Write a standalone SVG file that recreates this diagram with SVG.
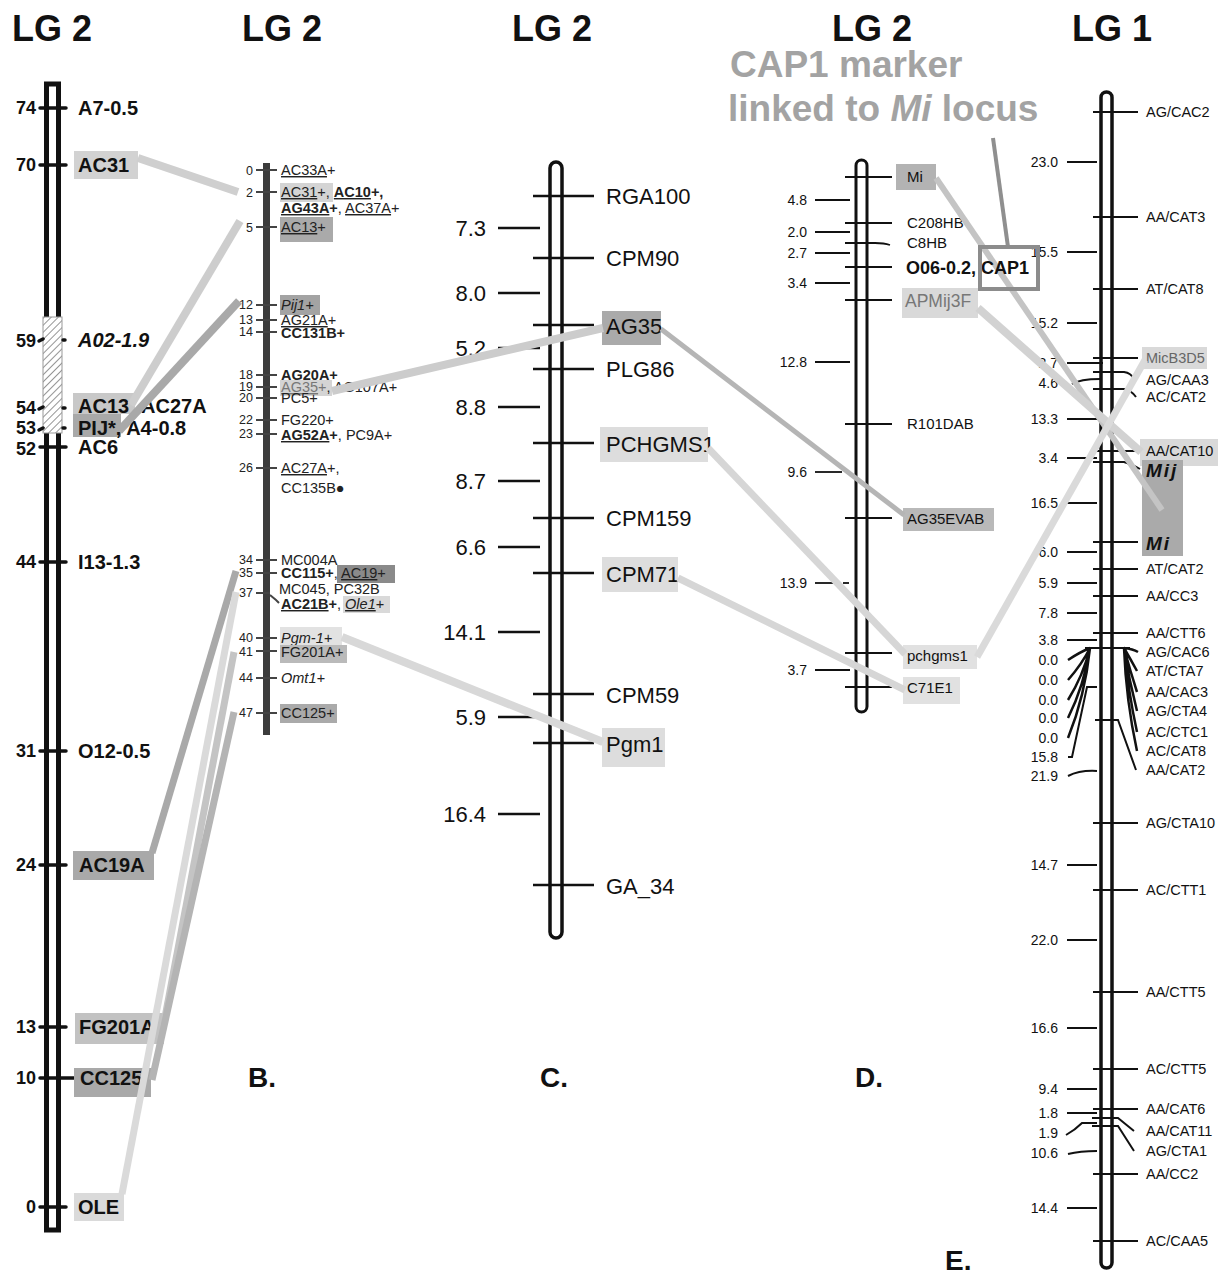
<svg xmlns="http://www.w3.org/2000/svg" width="1221" height="1278" viewBox="0 0 1221 1278">
<defs>
<pattern id="hatch" width="5" height="5" patternUnits="userSpaceOnUse" patternTransform="rotate(45)"><line x1="0" y1="0" x2="0" y2="5" stroke="#5a5a5a" stroke-width="1.3"/></pattern>
</defs>
<style>
text{font-family:"Liberation Sans",Arial,sans-serif;}
.hd{font-size:36px;font-weight:bold;fill:#111;}
.pl{font-size:28px;font-weight:bold;fill:#111;}
.an{font-size:37px;font-weight:bold;fill:#a3a3a3;}
.al{font-size:20px;font-weight:bold;fill:#111;}
.an2{font-size:18px;font-weight:bold;fill:#111;text-anchor:end;}
.bl{font-size:14.5px;fill:#222;}
.bn{font-size:12.5px;fill:#222;text-anchor:end;}
.cl{font-size:22px;fill:#111;}
.cn{font-size:22px;fill:#111;text-anchor:end;}
.dl{font-size:15px;fill:#111;}
.dn{font-size:14px;fill:#111;text-anchor:end;}
.el{font-size:14.5px;fill:#111;}
.en{font-size:14px;fill:#111;text-anchor:end;}
.u{text-decoration:underline;}
.b{font-weight:bold;}
.i{font-style:italic;}
.tkA{stroke:#111;stroke-width:3.5;stroke-linecap:round;}
.tkB{stroke:#444;stroke-width:2;}
.tkC{stroke:#111;stroke-width:2.6;}
.tkD{stroke:#111;stroke-width:1.8;}
.tkE{stroke:#111;stroke-width:2;fill:none;}
.con{fill:none;stroke-linecap:butt;}
</style>
<rect width="1221" height="1278" fill="#fff"/>

<g id="titles">
<text class="hd" x="12" y="41">LG 2</text>
<text class="hd" x="242" y="41">LG 2</text>
<text class="hd" x="512" y="41">LG 2</text>
<text class="hd" x="832" y="41">LG 2</text>
<text class="hd" x="1072" y="41">LG 1</text>
<text class="pl" x="248" y="1087">B.</text>
<text class="pl" x="540" y="1087">C.</text>
<text class="pl" x="855" y="1087">D.</text>
<text class="pl" x="945" y="1270">E.</text>
</g>

<g id="annotation">
<text class="an" x="730" y="77">CAP1 marker</text>
<text class="an" x="728" y="121">linked to <tspan font-style="italic">Mi</tspan> locus</text>
</g>

<!-- Panel A -->
<g id="panelA">
<rect x="46.5" y="84" width="12" height="1146" fill="none" stroke="#111" stroke-width="5"/>
<rect x="43" y="317" width="19" height="116" fill="#fff"/>
<rect x="43" y="317" width="19" height="116" fill="url(#hatch)" stroke="#999" stroke-width="1"/>
<g>
<line class="tkA" x1="40" y1="108" x2="66" y2="108"/>
<line class="tkA" x1="40" y1="165" x2="66" y2="165"/>
<line class="tkA" x1="39" y1="341" x2="43" y2="339"/><line class="tkA" x1="63" y1="340" x2="65" y2="340"/>
<line class="tkA" x1="39" y1="409" x2="43" y2="407"/><line class="tkA" x1="63" y1="408" x2="65" y2="408"/>
<line class="tkA" x1="39" y1="430" x2="43" y2="428"/><line class="tkA" x1="63" y1="428" x2="65" y2="428"/>
<line class="tkA" x1="40" y1="447" x2="66" y2="447"/>
<line class="tkA" x1="40" y1="562" x2="66" y2="562"/>
<line class="tkA" x1="40" y1="751" x2="66" y2="751"/>
<line class="tkA" x1="40" y1="865" x2="66" y2="865"/>
<line class="tkA" x1="40" y1="1027" x2="66" y2="1027"/>
<line class="tkA" x1="40" y1="1078" x2="78" y2="1078"/>
<line class="tkA" x1="40" y1="1207" x2="66" y2="1207"/>
</g>
<text class="an2" x="36" y="114">74</text>
<text class="an2" x="36" y="171">70</text>
<text class="an2" x="36" y="347">59</text>
<text class="an2" x="36" y="414">54</text>
<text class="an2" x="36" y="434">53</text>
<text class="an2" x="36" y="455">52</text>
<text class="an2" x="36" y="568">44</text>
<text class="an2" x="36" y="757">31</text>
<text class="an2" x="36" y="871">24</text>
<text class="an2" x="36" y="1033">13</text>
<text class="an2" x="36" y="1084">10</text>
<text class="an2" x="36" y="1213">0</text>
</g>
<g id="A-A7"><text class="al" x="78" y="115">A7-0.5</text></g>
<g id="A-AC31"><rect x="74" y="151" width="64" height="28" fill="#d2d2d2"/><text class="al" x="78" y="172">AC31</text></g>
<g id="A-A02"><text class="al" x="78" y="347" style="font-style:italic">A02-1.9</text></g>
<g id="A-AC13"><rect x="73" y="393" width="62" height="21" fill="#c8c8c8"/><text class="al" x="78" y="413">AC13</text><text class="al" x="141" y="413">AC27A</text></g>
<g id="A-PIJ"><rect x="73" y="414" width="48" height="23" fill="#a9a9a9"/><text class="al" x="78" y="435">PIJ*, A4-0.8</text></g>
<g id="A-AC6"><text class="al" x="78" y="454">AC6</text></g>
<g id="A-I13"><text class="al" x="78" y="569">I13-1.3</text></g>
<g id="A-O12"><text class="al" x="78" y="758">O12-0.5</text></g>
<g id="A-AC19A"><rect x="73" y="851" width="81" height="29" fill="#a9a9a9"/><text class="al" x="79" y="872">AC19A</text></g>
<g id="A-FG201A"><rect x="75" y="1013" width="89" height="31" fill="#c2c2c2"/><text class="al" x="79" y="1034">FG201A</text></g>
<g id="A-CC125"><rect x="74" y="1068" width="77" height="29" fill="#a9a9a9"/><text class="al" x="80" y="1085">CC125</text></g>
<g id="A-OLE"><rect x="74" y="1193" width="50" height="28" fill="#dadada"/><text class="al" x="78" y="1214">OLE</text></g>

<!-- Panel B -->
<g id="panelB">
<rect x="263" y="163" width="7" height="572" fill="#3c3c3c"/>
<g>
<line class="tkB" x1="256" y1="170" x2="277" y2="170"/>
<line class="tkB" x1="256" y1="192" x2="277" y2="192"/>
<line class="tkB" x1="256" y1="227" x2="277" y2="227"/>
<line class="tkB" x1="256" y1="305" x2="277" y2="305"/>
<line class="tkB" x1="256" y1="320" x2="277" y2="320"/>
<line class="tkB" x1="256" y1="332" x2="277" y2="332"/>
<line class="tkB" x1="256" y1="375" x2="277" y2="375"/>
<line class="tkB" x1="256" y1="387" x2="277" y2="387"/>
<line class="tkB" x1="256" y1="398" x2="277" y2="398"/>
<line class="tkB" x1="256" y1="420" x2="277" y2="420"/>
<line class="tkB" x1="256" y1="434" x2="277" y2="434"/>
<line class="tkB" x1="256" y1="468" x2="277" y2="468"/>
<line class="tkB" x1="256" y1="560" x2="277" y2="560"/>
<line class="tkB" x1="256" y1="573" x2="277" y2="573"/>
<line class="tkB" x1="256" y1="593" x2="270" y2="593"/>
<polyline class="tkB" fill="none" points="270,595 276,600 279,603"/>
<line class="tkB" x1="256" y1="638" x2="277" y2="638"/>
<line class="tkB" x1="256" y1="651" x2="277" y2="651"/>
<line class="tkB" x1="256" y1="678" x2="277" y2="678"/>
<line class="tkB" x1="256" y1="713" x2="277" y2="713"/>
</g>
<text class="bn" x="253" y="175">0</text>
<text class="bn" x="253" y="197">2</text>
<text class="bn" x="253" y="232">5</text>
<text class="bn" x="253" y="309">12</text>
<text class="bn" x="253" y="324">13</text>
<text class="bn" x="253" y="336">14</text>
<text class="bn" x="253" y="379">18</text>
<text class="bn" x="253" y="391">19</text>
<text class="bn" x="253" y="402">20</text>
<text class="bn" x="253" y="424">22</text>
<text class="bn" x="253" y="438">23</text>
<text class="bn" x="253" y="472">26</text>
<text class="bn" x="253" y="564">34</text>
<text class="bn" x="253" y="577">35</text>
<text class="bn" x="253" y="597">37</text>
<text class="bn" x="253" y="642">40</text>
<text class="bn" x="253" y="656">41</text>
<text class="bn" x="253" y="682">44</text>
<text class="bn" x="253" y="717">47</text>
</g>
<g id="B-0"><text class="bl" x="281" y="175"><tspan class="u">AC33A</tspan>+</text></g>
<g id="B-2"><rect x="280" y="183" width="53" height="19" fill="#d4d4d4"/><text class="bl" x="281" y="197"><tspan class="u">AC31</tspan>+, <tspan class="b u">AC10</tspan><tspan class="b">+,</tspan></text><text class="bl" x="281" y="213"><tspan class="b u">AG43A</tspan><tspan class="b">+</tspan>, <tspan class="u">AC37A</tspan>+</text></g>
<g id="B-5"><rect x="280" y="217" width="53" height="25" fill="#aaaaaa"/><text class="bl" x="281" y="232"><tspan class="u">AC13</tspan>+</text></g>
<g id="B-12"><rect x="280" y="295" width="40" height="20" fill="#a3a3a3"/><text class="bl i" x="281" y="310">Pij1+</text></g>
<g id="B-13"><text class="bl" x="281" y="325"><tspan class="u">AG21A</tspan>+</text></g>
<g id="B-14"><text class="bl b" x="281" y="338">CC131B+</text></g>
<g id="B-18"><text class="bl" x="281" y="380"><tspan class="b u">AG20A</tspan><tspan class="b">+</tspan></text></g>
<g id="B-19"><rect x="280" y="380" width="52" height="16" fill="#d4d4d4"/><text class="bl" x="281" y="392"><tspan class="u" fill="#777">AG35</tspan><tspan fill="#777">+</tspan>, AG107A+</text></g>
<g id="B-20"><text class="bl" x="281" y="403">PC5+</text></g>
<g id="B-22"><text class="bl" x="281" y="425">FG220+</text></g>
<g id="B-23"><text class="bl" x="281" y="440"><tspan class="b u">AG52A</tspan><tspan class="b">+</tspan>, PC9A+</text></g>
<g id="B-26"><text class="bl" x="281" y="473"><tspan class="u">AC27A</tspan>+,</text><text class="bl" x="281" y="493">CC135B●</text></g>
<g id="B-34"><text class="bl" x="281" y="565">MC004A</text></g>
<g id="B-35"><rect x="337" y="565" width="58" height="18" fill="#8a8a8a"/><text class="bl" x="281" y="578"><tspan class="b">CC115+</tspan>, <tspan class="u">AC19</tspan>+</text></g>
<g id="B-37"><rect x="343" y="596" width="47" height="17" fill="#d9d9d9"/><text class="bl" x="279" y="594">MC045, PC32B</text><text class="bl" x="281" y="609"><tspan class="b u">AC21B</tspan><tspan class="b">+</tspan>, <tspan class="i u">Ole1</tspan>+</text></g>
<g id="B-40"><rect x="280" y="627" width="62" height="18" fill="#e2e2e2"/><text class="bl i" x="281" y="643">Pgm-1+</text></g>
<g id="B-41"><rect x="280" y="645" width="67" height="18" fill="#bababa"/><text class="bl" x="281" y="657">FG201A+</text></g>
<g id="B-44"><text class="bl i" x="281" y="683">Omt1+</text></g>
<g id="B-47"><rect x="280" y="704" width="57" height="19" fill="#aaaaaa"/><text class="bl" x="281" y="718">CC125+</text></g>

<!-- Panel C -->
<g id="panelC">
<rect x="550" y="162" width="12" height="776" rx="6" fill="none" stroke="#111" stroke-width="3.5"/>
<g>
<line class="tkC" x1="533" y1="196" x2="594" y2="196"/>
<line class="tkC" x1="533" y1="258" x2="594" y2="258"/>
<line class="tkC" x1="533" y1="325" x2="594" y2="325"/>
<line class="tkC" x1="533" y1="369" x2="594" y2="369"/>
<line class="tkC" x1="533" y1="443" x2="594" y2="443"/>
<line class="tkC" x1="533" y1="518" x2="594" y2="518"/>
<line class="tkC" x1="533" y1="573" x2="594" y2="573"/>
<line class="tkC" x1="533" y1="694" x2="594" y2="694"/>
<line class="tkC" x1="533" y1="743" x2="594" y2="743"/>
<line class="tkC" x1="533" y1="885" x2="594" y2="885"/>
<line class="tkC" x1="498" y1="228" x2="540" y2="228"/>
<line class="tkC" x1="498" y1="293" x2="540" y2="293"/>
<line class="tkC" x1="498" y1="348" x2="540" y2="348"/>
<line class="tkC" x1="498" y1="407" x2="540" y2="407"/>
<line class="tkC" x1="498" y1="481" x2="540" y2="481"/>
<line class="tkC" x1="498" y1="547" x2="540" y2="547"/>
<line class="tkC" x1="498" y1="632" x2="540" y2="632"/>
<line class="tkC" x1="498" y1="717" x2="540" y2="717"/>
<line class="tkC" x1="498" y1="814" x2="540" y2="814"/>
</g>
<text class="cn" x="486" y="236">7.3</text>
<text class="cn" x="486" y="301">8.0</text>
<text class="cn" x="486" y="356">5.2</text>
<text class="cn" x="486" y="415">8.8</text>
<text class="cn" x="486" y="489">8.7</text>
<text class="cn" x="486" y="555">6.6</text>
<text class="cn" x="486" y="640">14.1</text>
<text class="cn" x="486" y="725">5.9</text>
<text class="cn" x="486" y="822">16.4</text>
</g>
<g id="C-RGA100"><text class="cl" x="606" y="204">RGA100</text></g>
<g id="C-CPM90"><text class="cl" x="606" y="266">CPM90</text></g>
<g id="C-AG35"><rect x="602" y="311" width="59" height="34" fill="#aaaaaa"/><text class="cl" x="606" y="334">AG35</text></g>
<g id="C-PLG86"><text class="cl" x="606" y="377">PLG86</text></g>
<g id="C-PCHGMS1"><rect x="600" y="427" width="108" height="35" fill="#dddddd"/><text class="cl" x="606" y="452">PCHGMS1</text></g>
<g id="C-CPM159"><text class="cl" x="606" y="526">CPM159</text></g>
<g id="C-CPM71"><rect x="602" y="557" width="76" height="35" fill="#dddddd"/><text class="cl" x="606" y="582">CPM71</text></g>
<g id="C-CPM59"><text class="cl" x="606" y="703">CPM59</text></g>
<g id="C-Pgm1"><rect x="602" y="728" width="63" height="39" fill="#dddddd"/><text class="cl" x="606" y="752">Pgm1</text></g>
<g id="C-GA34"><text class="cl" x="606" y="894">GA_34</text></g>

<!-- Panel D -->
<g id="panelD">
<rect x="856" y="160" width="11" height="552" rx="5.5" fill="none" stroke="#111" stroke-width="3"/>
<g>
<line class="tkD" x1="845" y1="177" x2="892" y2="177"/>
<line class="tkD" x1="845" y1="223" x2="892" y2="223"/>
<path class="tkD" fill="none" d="M845,243 H875 Q884,243 890,245"/>
<line class="tkD" x1="845" y1="267" x2="892" y2="267"/>
<line class="tkD" x1="845" y1="300" x2="892" y2="300"/>
<line class="tkD" x1="845" y1="424" x2="892" y2="424"/>
<line class="tkD" x1="845" y1="518" x2="892" y2="518"/>
<line class="tkD" x1="845" y1="653" x2="892" y2="653"/>
<line class="tkD" x1="845" y1="687" x2="892" y2="687"/>
<line class="tkD" x1="815" y1="200" x2="850" y2="200"/>
<line class="tkD" x1="815" y1="232" x2="850" y2="232"/>
<line class="tkD" x1="815" y1="253" x2="850" y2="253"/>
<line class="tkD" x1="815" y1="283" x2="850" y2="283"/>
<line class="tkD" x1="815" y1="362" x2="850" y2="362"/>
<line class="tkD" x1="815" y1="472" x2="842" y2="472"/>
<line class="tkD" x1="815" y1="583" x2="833" y2="583"/>
<line class="tkD" x1="843" y1="583" x2="849" y2="583"/>
<line class="tkD" x1="815" y1="670" x2="850" y2="670"/>
</g>
<text class="dn" x="807" y="205">4.8</text>
<text class="dn" x="807" y="237">2.0</text>
<text class="dn" x="807" y="258">2.7</text>
<text class="dn" x="807" y="288">3.4</text>
<text class="dn" x="807" y="367">12.8</text>
<text class="dn" x="807" y="477">9.6</text>
<text class="dn" x="807" y="588">13.9</text>
<text class="dn" x="807" y="675">3.7</text>
</g>
<g id="D-Mi"><rect x="896" y="164" width="40" height="26" fill="#b3b3b3"/><text class="dl" x="907" y="182">Mi</text></g>
<g id="D-C208HB"><text class="dl" x="907" y="228">C208HB</text></g>
<g id="D-C8HB"><text class="dl" x="907" y="248">C8HB</text></g>
<g id="D-APMij3F"><rect x="902" y="288" width="76" height="30" fill="#d9d9d9"/><text class="dl" x="905" y="307" style="font-size:17.5px;fill:#777">APMij3F</text></g>
<g id="D-R101DAB"><text class="dl" x="907" y="429">R101DAB</text></g>
<g id="D-AG35EVAB"><rect x="903" y="508" width="91" height="23" fill="#b9b9b9"/><text class="dl" x="907" y="524">AG35EVAB</text></g>
<g id="D-pchgms1"><rect x="903" y="645" width="74" height="24" fill="#e1e1e1"/><text class="dl" x="907" y="661">pchgms1</text></g>
<g id="D-C71E1"><rect x="903" y="677" width="57" height="27" fill="#e1e1e1"/><text class="dl" x="907" y="693">C71E1</text></g>

<!-- Panel E -->
<g id="panelE">
<rect x="1101" y="92" width="11" height="1176" rx="5.5" fill="none" stroke="#111" stroke-width="3.5"/>
<g>
<line class="tkE" x1="1093" y1="112" x2="1138" y2="112"/>
<line class="tkE" x1="1093" y1="217" x2="1138" y2="217"/>
<line class="tkE" x1="1093" y1="289" x2="1138" y2="289"/>
<line class="tkE" x1="1093" y1="358" x2="1138" y2="358"/>
<path class="tkE" d="M1093,372 H1124 Q1131,373 1134,379"/>
<path class="tkE" d="M1093,389 H1124 Q1131,390 1136,397"/>
<line class="tkE" x1="1093" y1="451" x2="1138" y2="451"/>
<path class="tkE" d="M1093,462 H1124 Q1131,464 1140,469"/>
<line class="tkE" x1="1093" y1="542" x2="1138" y2="542"/>
<line class="tkE" x1="1093" y1="569" x2="1138" y2="569"/>
<line class="tkE" x1="1093" y1="596" x2="1138" y2="596"/>
<line class="tkE" x1="1093" y1="633" x2="1138" y2="633"/>
<line class="tkE" x1="1085" y1="648" x2="1130" y2="648"/>
<path class="tkE" style="stroke-width:2.5" d="M1124,648 Q1133,649 1138,652 M1124,648 Q1131,660 1137,671 M1124,648 Q1130,670 1137,692 M1124,648 Q1129,680 1137,711 M1124,648 Q1128,690 1137,732 M1124,648 Q1126,700 1137,751"/>
<path class="tkE" style="stroke-width:2.5" d="M1090,648 Q1080,652 1068,660 M1090,648 Q1082,664 1068,680 M1090,648 Q1083,676 1068,700 M1090,648 Q1084,686 1068,718 M1090,648 Q1085,696 1068,738"/>
<path class="tkE" d="M1095,720 H1118 L1136,770"/>
<line class="tkE" x1="1093" y1="823" x2="1138" y2="823"/>
<line class="tkE" x1="1093" y1="890" x2="1138" y2="890"/>
<line class="tkE" x1="1093" y1="992" x2="1138" y2="992"/>
<line class="tkE" x1="1093" y1="1069" x2="1138" y2="1069"/>
<line class="tkE" x1="1093" y1="1109" x2="1138" y2="1109"/>
<path class="tkE" d="M1092,1118 H1118 L1134,1131"/>
<path class="tkE" d="M1092,1126 H1118 L1134,1151"/>
<line class="tkE" x1="1093" y1="1174" x2="1138" y2="1174"/>
<line class="tkE" x1="1093" y1="1241" x2="1138" y2="1241"/>
<line class="tkE" x1="1067" y1="162" x2="1097" y2="162"/>
<line class="tkE" x1="1067" y1="252" x2="1097" y2="252"/>
<line class="tkE" x1="1067" y1="323" x2="1097" y2="323"/>
<line class="tkE" x1="1067" y1="363" x2="1103" y2="363"/>
<path class="tkE" d="M1072,384 Q1080,379 1100,379"/>
<line class="tkE" x1="1067" y1="419" x2="1097" y2="419"/>
<line class="tkE" x1="1067" y1="458" x2="1097" y2="458"/>
<line class="tkE" x1="1067" y1="503" x2="1097" y2="503"/>
<line class="tkE" x1="1067" y1="552" x2="1097" y2="552"/>
<line class="tkE" x1="1067" y1="583" x2="1097" y2="583"/>
<line class="tkE" x1="1067" y1="613" x2="1097" y2="613"/>
<line class="tkE" x1="1067" y1="640" x2="1097" y2="640"/>
<path class="tkE" d="M1068,757 H1072 L1087,687 H1097"/>
<path class="tkE" d="M1068,776 Q1080,770 1097,771"/>
<line class="tkE" x1="1067" y1="865" x2="1097" y2="865"/>
<line class="tkE" x1="1067" y1="940" x2="1097" y2="940"/>
<line class="tkE" x1="1067" y1="1028" x2="1097" y2="1028"/>
<line class="tkE" x1="1067" y1="1089" x2="1097" y2="1089"/>
<line class="tkE" x1="1067" y1="1113" x2="1097" y2="1113"/>
<path class="tkE" d="M1066,1135 Q1075,1130 1082,1123 H1097"/>
<path class="tkE" d="M1068,1154 Q1080,1151 1097,1151"/>
<line class="tkE" x1="1067" y1="1208" x2="1097" y2="1208"/>
</g>
<text class="en" x="1058" y="167">23.0</text>
<text class="en" x="1058" y="257">15.5</text>
<text class="en" x="1058" y="328">15.2</text>
<text class="en" x="1058" y="368">2.7</text>
<text class="en" x="1058" y="388">4.6</text>
<text class="en" x="1058" y="424">13.3</text>
<text class="en" x="1058" y="463">3.4</text>
<text class="en" x="1058" y="508">16.5</text>
<text class="en" x="1058" y="557">6.0</text>
<text class="en" x="1058" y="588">5.9</text>
<text class="en" x="1058" y="618">7.8</text>
<text class="en" x="1058" y="645">3.8</text>
<text class="en" x="1058" y="665">0.0</text>
<text class="en" x="1058" y="685">0.0</text>
<text class="en" x="1058" y="705">0.0</text>
<text class="en" x="1058" y="723">0.0</text>
<text class="en" x="1058" y="743">0.0</text>
<text class="en" x="1058" y="762">15.8</text>
<text class="en" x="1058" y="781">21.9</text>
<text class="en" x="1058" y="870">14.7</text>
<text class="en" x="1058" y="945">22.0</text>
<text class="en" x="1058" y="1033">16.6</text>
<text class="en" x="1058" y="1094">9.4</text>
<text class="en" x="1058" y="1118">1.8</text>
<text class="en" x="1058" y="1138">1.9</text>
<text class="en" x="1058" y="1158">10.6</text>
<text class="en" x="1058" y="1213">14.4</text>
</g>
<g id="E-AGCAC2"><text class="el" x="1146" y="117">AG/CAC2</text></g>
<g id="E-AACAT3"><text class="el" x="1146" y="222">AA/CAT3</text></g>
<g id="E-ATCAT8"><text class="el" x="1146" y="294">AT/CAT8</text></g>
<g id="E-MicB3D5"><rect x="1142" y="347" width="65" height="22" fill="#d9d9d9"/><text class="el" x="1146" y="363" style="fill:#666">MicB3D5</text></g>
<g id="E-AGCAA3"><text class="el" x="1146" y="385">AG/CAA3</text></g>
<g id="E-ACCAT2"><text class="el" x="1146" y="402">AC/CAT2</text></g>
<g id="E-AACAT10"><rect x="1140" y="439" width="78" height="27" fill="#d9d9d9"/><text class="el" x="1146" y="456">AA/CAT10</text></g>
<g id="E-Mi"><rect x="1142" y="460" width="41" height="96" fill="#aaaaaa"/><text class="el b i" x="1146" y="477" style="font-size:19px;letter-spacing:2px">Mij</text><text class="el b i" x="1146" y="550" style="font-size:19px;letter-spacing:2px">Mi</text></g>
<g id="E-ATCAT2"><text class="el" x="1146" y="574">AT/CAT2</text></g>
<g id="E-AACC3"><text class="el" x="1146" y="601">AA/CC3</text></g>
<g id="E-AACTT6"><text class="el" x="1146" y="638">AA/CTT6</text></g>
<g id="E-AGCAC6"><text class="el" x="1146" y="657">AG/CAC6</text></g>
<g id="E-ATCTA7"><text class="el" x="1146" y="676">AT/CTA7</text></g>
<g id="E-AACAC3"><text class="el" x="1146" y="697">AA/CAC3</text></g>
<g id="E-AGCTA4"><text class="el" x="1146" y="716">AG/CTA4</text></g>
<g id="E-ACCTC1"><text class="el" x="1146" y="737">AC/CTC1</text></g>
<g id="E-ACCAT8"><text class="el" x="1146" y="756">AC/CAT8</text></g>
<g id="E-AACAT2"><text class="el" x="1146" y="775">AA/CAT2</text></g>
<g id="E-AGCTA10"><text class="el" x="1146" y="828">AG/CTA10</text></g>
<g id="E-ACCTT1"><text class="el" x="1146" y="895">AC/CTT1</text></g>
<g id="E-AACTT5"><text class="el" x="1146" y="997">AA/CTT5</text></g>
<g id="E-ACCTT5"><text class="el" x="1146" y="1074">AC/CTT5</text></g>
<g id="E-AACAT6"><text class="el" x="1146" y="1114">AA/CAT6</text></g>
<g id="E-AACAT11"><text class="el" x="1146" y="1136">AA/CAT11</text></g>
<g id="E-AGCTA1"><text class="el" x="1146" y="1156">AG/CTA1</text></g>
<g id="E-AACC2"><text class="el" x="1146" y="1179">AA/CC2</text></g>
<g id="E-ACCAA5"><text class="el" x="1146" y="1246">AC/CAA5</text></g>

<g id="connectors" class="con">
<line x1="138" y1="158" x2="238" y2="192" stroke="#cfcfcf" stroke-width="8"/>
<line x1="131" y1="405" x2="240" y2="221" stroke="#cdcdcd" stroke-width="8"/>
<line x1="119" y1="431" x2="239" y2="301" stroke="#a9a9a9" stroke-width="8"/>
<line x1="332" y1="391" x2="603" y2="328" stroke="#cccccc" stroke-width="8"/>
<line x1="661" y1="329" x2="904" y2="515" stroke="#b5b5b5" stroke-width="5"/>
<line x1="708" y1="448" x2="905" y2="654" stroke="#d6d6d6" stroke-width="7"/>
<line x1="678" y1="578" x2="905" y2="690" stroke="#d6d6d6" stroke-width="7"/>
<line x1="342" y1="637" x2="603" y2="742" stroke="#d8d8d8" stroke-width="8"/>
<line x1="152" y1="853" x2="236" y2="571" stroke="#a9a9a9" stroke-width="7"/>
<line x1="122" y1="1194" x2="236" y2="592" stroke="#dadada" stroke-width="7"/>
<line x1="163" y1="1028" x2="234" y2="652" stroke="#c4c4c4" stroke-width="7"/>
<line x1="152" y1="1080" x2="234" y2="712" stroke="#b4b4b4" stroke-width="7"/>
<line x1="936" y1="178" x2="1162" y2="510" stroke="#c4c4c4" stroke-width="6"/>
<line x1="978" y1="308" x2="1141" y2="452" stroke="#d2d2d2" stroke-width="8"/>
<line x1="977" y1="657" x2="1145" y2="360" stroke="#dadada" stroke-width="7"/>
<line x1="993" y1="138" x2="1008" y2="247" stroke="#8f8f8f" stroke-width="4"/>
</g>

<g id="D-CAP1"><text class="dl b" x="906" y="274" style="font-size:18px">O06-0.2, CAP1</text><rect x="980" y="247" width="58" height="42" fill="none" stroke="#8c8c8c" stroke-width="4"/></g>
</svg>
